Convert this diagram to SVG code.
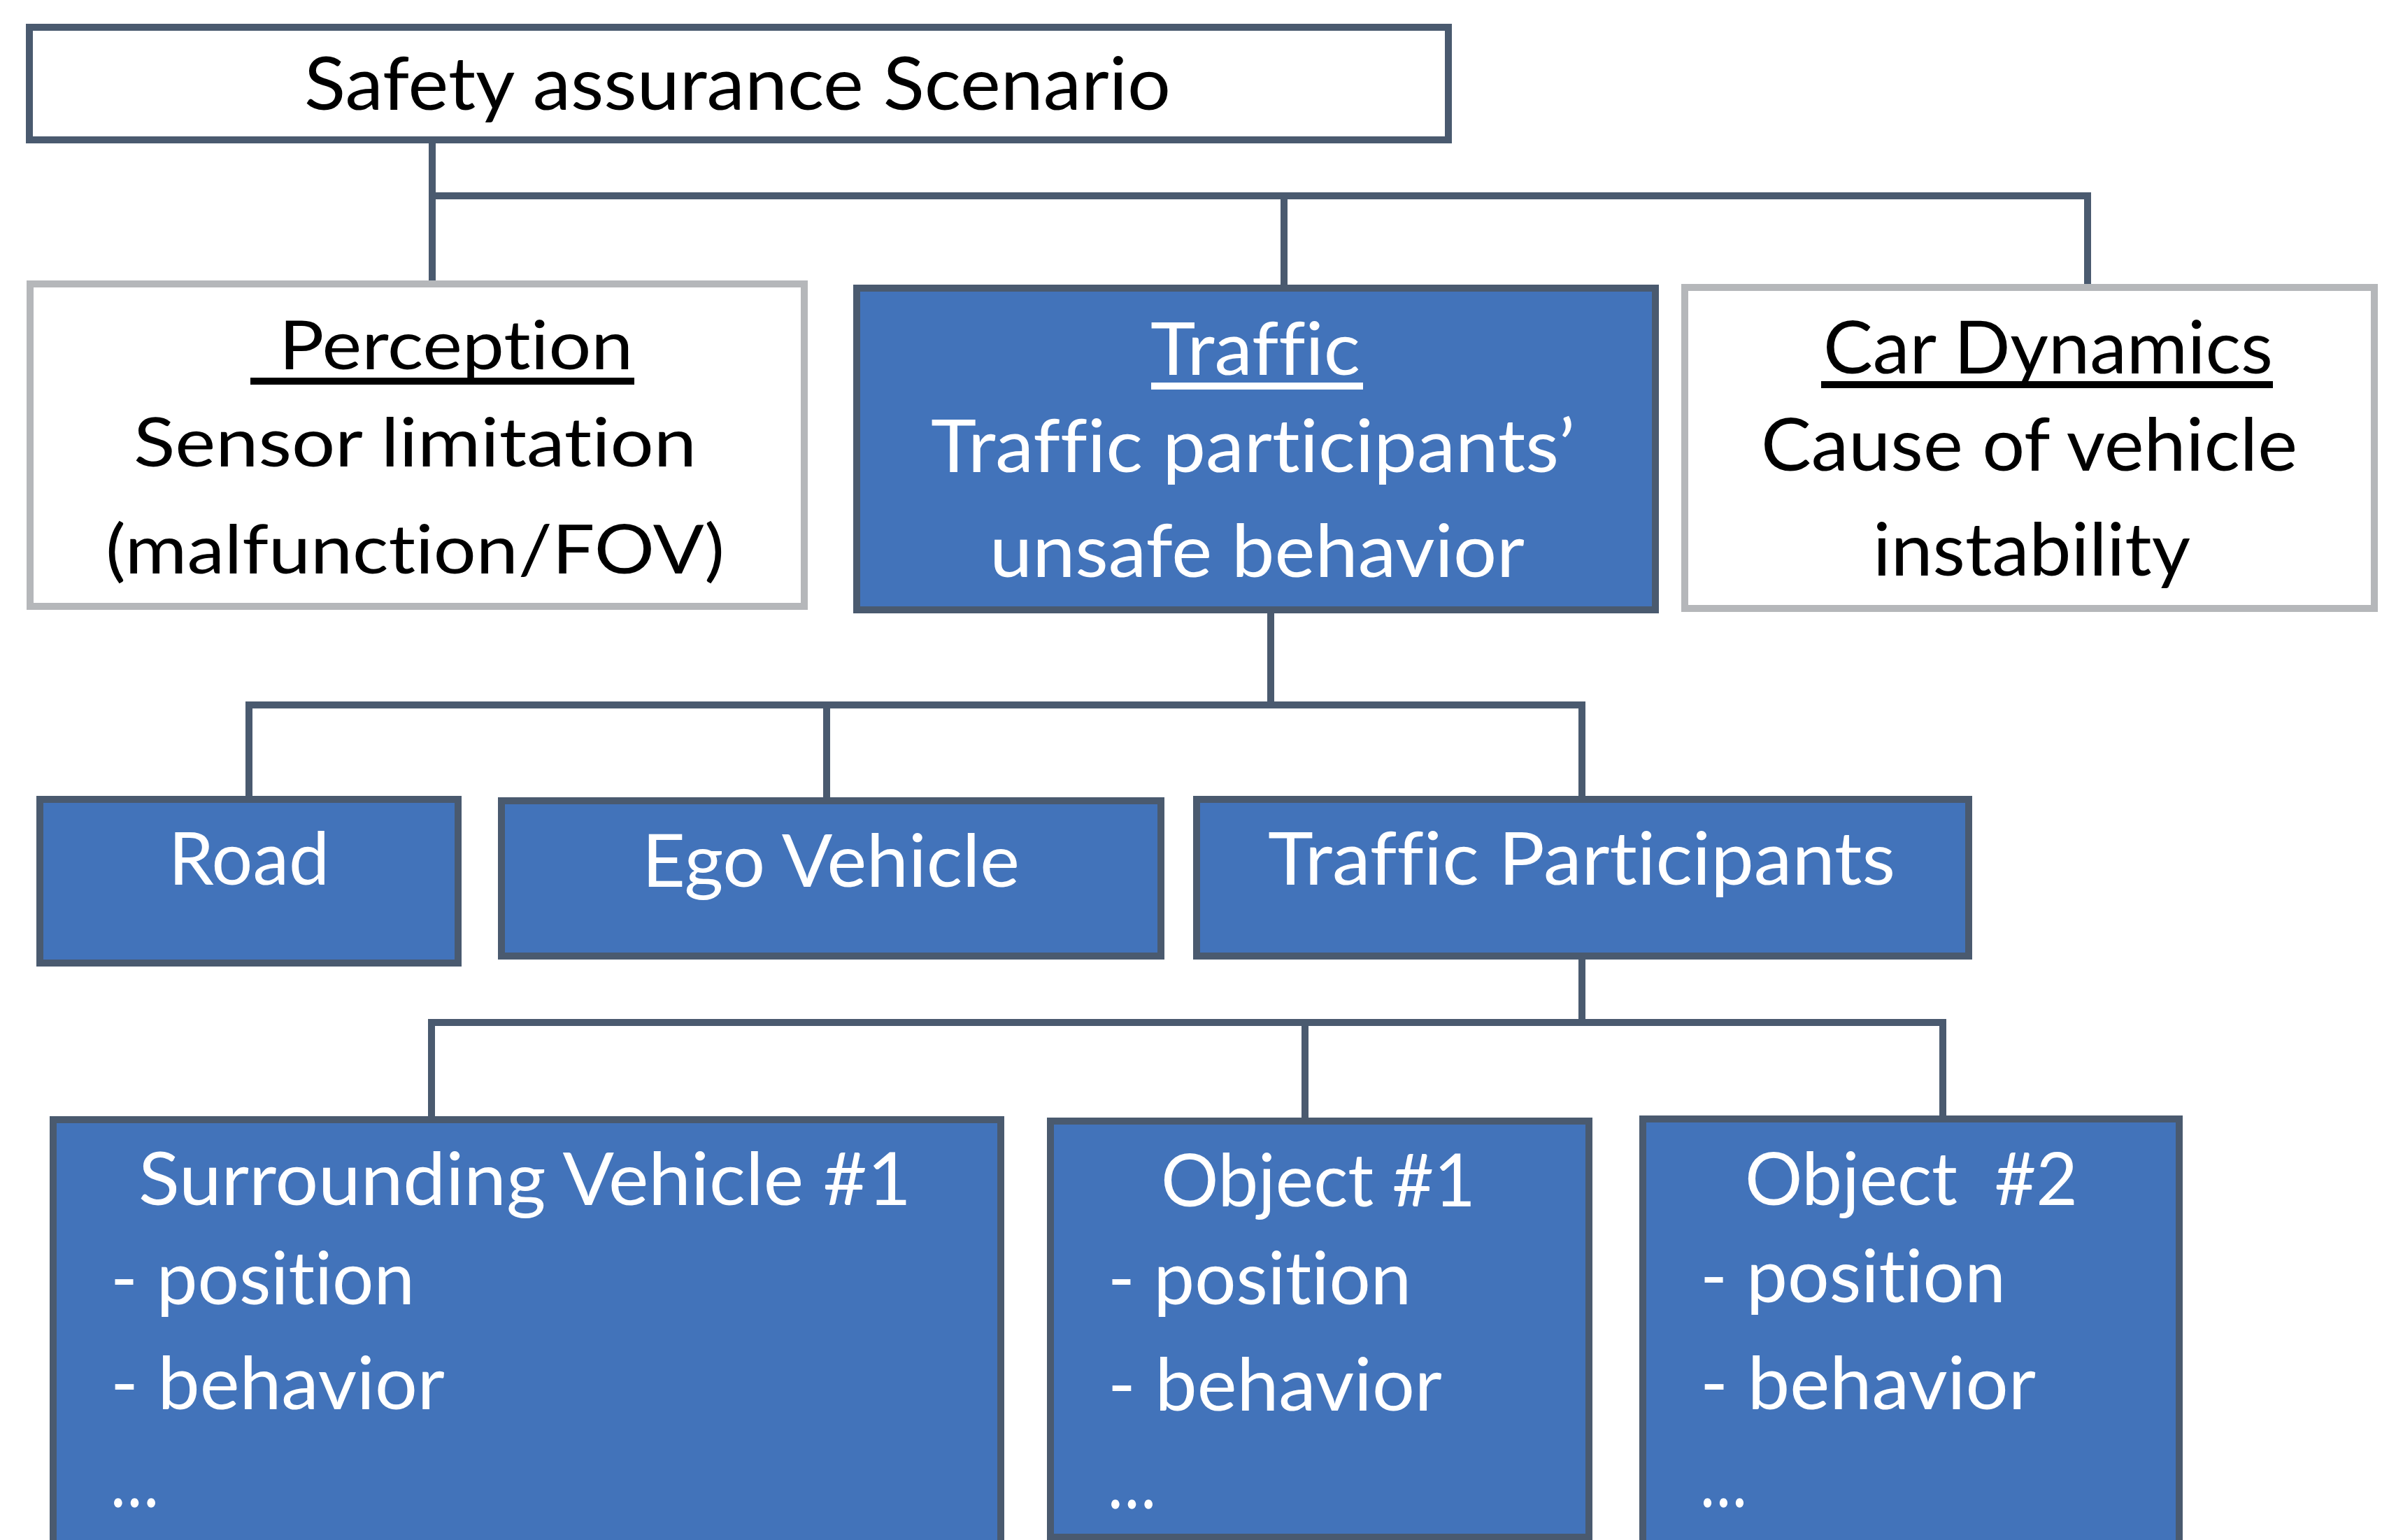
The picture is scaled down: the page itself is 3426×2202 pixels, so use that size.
<svg xmlns="http://www.w3.org/2000/svg" width="3426" height="2202" viewBox="0 0 3426 2202">
<style>
.dark{fill:#4273BA;stroke:#4A5A6F;stroke-width:10}
.white{fill:#FFFFFF;stroke:#4A5A6F;stroke-width:10}
.grey{fill:#FFFFFF;stroke:#B5B7BA;stroke-width:10}
.conn{fill:none;stroke:#4A5A6F;stroke-width:10;stroke-linejoin:miter;stroke-linecap:butt}
text{font-family:Lato,"Open Sans","Liberation Sans",sans-serif;white-space:pre;font-variant-ligatures:none;font-feature-settings:"liga" 0,"clig" 0}
.tb{fill:#000000;font-size:96px}
.tb2{fill:#000000;font-size:104px}
.tw{fill:#FFFFFF;font-size:104px}
</style>
<rect width="3426" height="2202" fill="#FFFFFF"/>
<g id="connectors">
<path class="conn" d="M618 205 V401"/>
<path class="conn" d="M618 280 H2985 V411"/>
<path class="conn" d="M1836 280 V407"/>
<path class="conn" d="M1817 877 V1008"/>
<path class="conn" d="M356 1138 V1008 H2262 V1138"/>
<path class="conn" d="M1182 1008 V1140"/>
<path class="conn" d="M2262 1372 V1462"/>
<path class="conn" d="M617 1596 V1462 H2778 V1595"/>
<path class="conn" d="M1866 1462 V1598"/>
</g>
<g id="root">
<rect class="white" x="42" y="39" width="2029" height="161"/>
<text class="tb2" x="435" y="157" textLength="1239" lengthAdjust="spacingAndGlyphs">Safety assurance Scenario</text>
</g>
<g id="perception">
<rect class="grey" x="43" y="406" width="1107" height="461"/>
<text class="tb" x="399" y="528" textLength="506" lengthAdjust="spacingAndGlyphs">Perception</text>
<rect x="358" y="540" width="549" height="10" fill="#000000"/>
<text class="tb" x="191" y="667" textLength="805" lengthAdjust="spacingAndGlyphs">Sensor limitation</text>
<text class="tb" x="151" y="820" textLength="885" lengthAdjust="spacingAndGlyphs">(malfunction/FOV)</text>
</g>
<g id="traffic">
<rect class="dark" x="1225" y="412" width="1142" height="460"/>
<text class="tw" x="1645" y="536" textLength="300" lengthAdjust="spacingAndGlyphs">Traffic</text>
<rect x="1646" y="547" width="303" height="10" fill="#FFFFFF"/>
<text class="tw" x="1331" y="675" textLength="921" lengthAdjust="spacingAndGlyphs">Traffic participants’</text>
<text class="tw" x="1415" y="825" textLength="765" lengthAdjust="spacingAndGlyphs">unsafe behavior</text>
</g>
<g id="car-dynamics">
<rect class="grey" x="2409" y="411" width="986" height="459"/>
<text class="tb2" x="2607" y="534" textLength="643" lengthAdjust="spacingAndGlyphs">Car Dynamics</text>
<rect x="2604" y="545" width="646" height="10" fill="#000000"/>
<text class="tb2" x="2518" y="673" textLength="767" lengthAdjust="spacingAndGlyphs">Cause of vehicle</text>
<text class="tb2" x="2678" y="823" textLength="454" lengthAdjust="spacingAndGlyphs">instability</text>
</g>
<g id="road">
<rect class="dark" x="57" y="1143" width="598" height="234"/>
<text class="tw" x="241" y="1265" textLength="230" lengthAdjust="spacingAndGlyphs">Road</text>
</g>
<g id="ego-vehicle">
<rect class="dark" x="717" y="1145" width="943" height="222"/>
<text class="tw" x="918" y="1268" textLength="540" lengthAdjust="spacingAndGlyphs">Ego Vehicle</text>
</g>
<g id="traffic-participants">
<rect class="dark" x="1711" y="1143" width="1104" height="224"/>
<text class="tw" x="1813" y="1265" textLength="897" lengthAdjust="spacingAndGlyphs">Traffic Participants</text>
</g>
<g id="surrounding-vehicle-1">
<rect class="dark" x="76" y="1601" width="1355" height="700"/>
<text class="tw" x="198" y="1723" textLength="1105" lengthAdjust="spacingAndGlyphs">Surrounding Vehicle #1</text>
<text class="tw" x="158" y="1865" textLength="435" lengthAdjust="spacingAndGlyphs">- position</text>
<text class="tw" x="158" y="2015" textLength="478" lengthAdjust="spacingAndGlyphs">- behavior</text>
<text class="tw" x="158" y="2155" textLength="69" lengthAdjust="spacingAndGlyphs">…</text>
</g>
<g id="object-1">
<rect class="dark" x="1502" y="1603" width="770" height="595"/>
<text class="tw" x="1660" y="1725" textLength="450" lengthAdjust="spacingAndGlyphs">Object #1</text>
<text class="tw" x="1584" y="1865" textLength="434" lengthAdjust="spacingAndGlyphs">- position</text>
<text class="tw" x="1584" y="2017" textLength="478" lengthAdjust="spacingAndGlyphs">- behavior</text>
<text class="tw" x="1584" y="2157" textLength="69" lengthAdjust="spacingAndGlyphs">…</text>
</g>
<g id="object-2">
<rect class="dark" x="2349" y="1600" width="767" height="700"/>
<text class="tw" x="2495" y="1723" textLength="476" lengthAdjust="spacingAndGlyphs">Object  #2</text>
<text class="tw" x="2431" y="1862" textLength="437" lengthAdjust="spacingAndGlyphs">- position</text>
<text class="tw" x="2431" y="2015" textLength="480" lengthAdjust="spacingAndGlyphs">- behavior</text>
<text class="tw" x="2431" y="2155" textLength="67" lengthAdjust="spacingAndGlyphs">…</text>
</g>
</svg>
